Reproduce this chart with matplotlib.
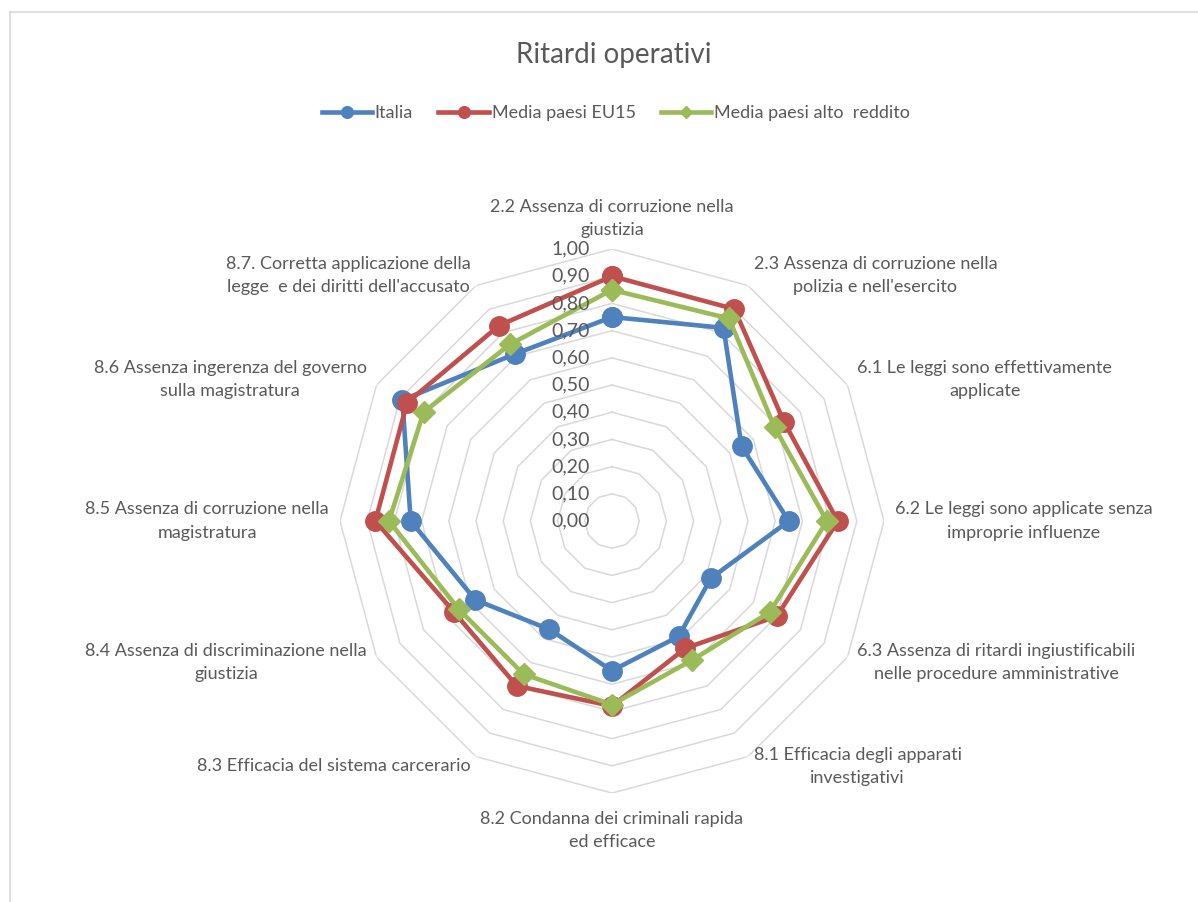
import numpy as np
import matplotlib.pyplot as plt
from matplotlib.lines import Line2D

categorie = [
    "2.2 Assenza di corruzione nella\ngiustizia",
    "2.3 Assenza di corruzione nella\npolizia e nell'esercito",
    "6.1 Le leggi sono effettivamente\napplicate",
    "6.2 Le leggi sono applicate senza\nimproprie influenze",
    "6.3 Assenza di ritardi ingiustificabili\nnelle procedure amministrative",
    "8.1 Efficacia degli apparati\ninvestigativi",
    "8.2 Condanna dei criminali rapida\ned efficace",
    "8.3 Efficacia del sistema carcerario",
    "8.4 Assenza di discriminazione nella\ngiustizia",
    "8.5 Assenza di corruzione nella\nmagistratura",
    "8.6 Assenza ingerenza del governo\nsulla magistratura",
    "8.7. Corretta applicazione della\nlegge  e dei diritti dell'accusato",
]
italia = [0.75, 0.82, 0.55, 0.65, 0.42, 0.49, 0.55, 0.46, 0.58, 0.74, 0.89, 0.71]
eu15 = [0.90, 0.90, 0.73, 0.83, 0.70, 0.54, 0.68, 0.70, 0.67, 0.87, 0.87, 0.83]
alto_reddito = [0.85, 0.86, 0.69, 0.79, 0.67, 0.59, 0.675, 0.65, 0.65, 0.82, 0.80, 0.75]
livelli = [0.0, 0.1, 0.2, 0.3, 0.4, 0.5, 0.6, 0.7, 0.8, 0.9, 1.0]

serie = [
    ("Italia", italia, "#4F81BD", "o", 14),
    ("Media paesi EU15", eu15, "#C0504D", "o", 14),
    ("Media paesi alto  reddito", alto_reddito, "#9BBB59", "D", 11),
]

grigio = "#595959"
plt.rcParams['font.family'] = ['Lato', 'DejaVu Sans']

fig = plt.figure(figsize=(11.98, 9.02), dpi=100)
ax = fig.add_axes([0.2838, 0.1208, 0.4541, 0.6031], polar=True)
ax.set_theta_zero_location('N')
ax.set_theta_direction(-1)

n = len(categorie)
angoli = np.linspace(0, 2 * np.pi, n, endpoint=False)
chiuso = np.append(angoli, angoli[0])

# anelli poligonali della griglia
for lv in livelli[1:]:
    ax.plot(chiuso, [lv] * (n + 1), color="#D9D9D9", lw=1.1, zorder=1)

for nome, valori, colore, marker, ms in serie:
    v = list(valori) + [valori[0]]
    ax.plot(chiuso, v, color=colore, lw=3.3, marker=marker, markersize=ms,
            label=nome, zorder=3)

ax.set_ylim(0, 1)
ax.grid(False)
ax.spines['polar'].set_visible(False)
ax.set_xticks([])
ax.set_yticks([])
ax.patch.set_alpha(0)

for lv in livelli:
    ax.annotate(f"{lv:.2f}".replace(".", ","), xy=(0, lv), xytext=(-16, 0),
                textcoords="offset points", ha="right", va="center",
                fontsize=14, color=grigio, annotation_clip=False)

for ang, testo in zip(angoli, categorie):
    s, c = np.sin(ang), np.cos(ang)
    ha = "left" if s > 0.1 else ("right" if s < -0.1 else "center")
    va = "bottom" if c > 0.9 else ("top" if c < -0.9 else "center")
    pad = 13 if c < -0.9 else 8
    ax.annotate(testo, xy=(ang, 1.0), xytext=(s * pad, c * pad),
                textcoords="offset points", ha=ha, va=va, ma="center",
                fontsize=13, color=grigio, linespacing=1.55,
                annotation_clip=False)

fig.text(0.512, 1 - 55 / 902, "Ritardi operativi", ha="center", va="center",
         fontsize=20, color=grigio)

handles = [Line2D([], [], color=col, lw=3.3, marker=m, markersize=ms * 0.6)
           for _, _, col, m, ms in serie]
fig.legend(handles, [s[0] for s in serie], loc="center",
           bbox_to_anchor=(0.514, 1 - 113 / 902), ncol=3, frameon=False,
           fontsize=13, labelcolor=grigio, handlelength=2.8,
           handletextpad=0.15, columnspacing=1.4)

# bordo dell'area del grafico
fig.add_artist(Line2D([10 / 1198, 1], [1 - 12 / 902] * 2, color="#D9D9D9", lw=1.2))
fig.add_artist(Line2D([10 / 1198] * 2, [0, 1 - 12 / 902], color="#D9D9D9", lw=1.2))

fig.savefig("out.png", dpi=100)
